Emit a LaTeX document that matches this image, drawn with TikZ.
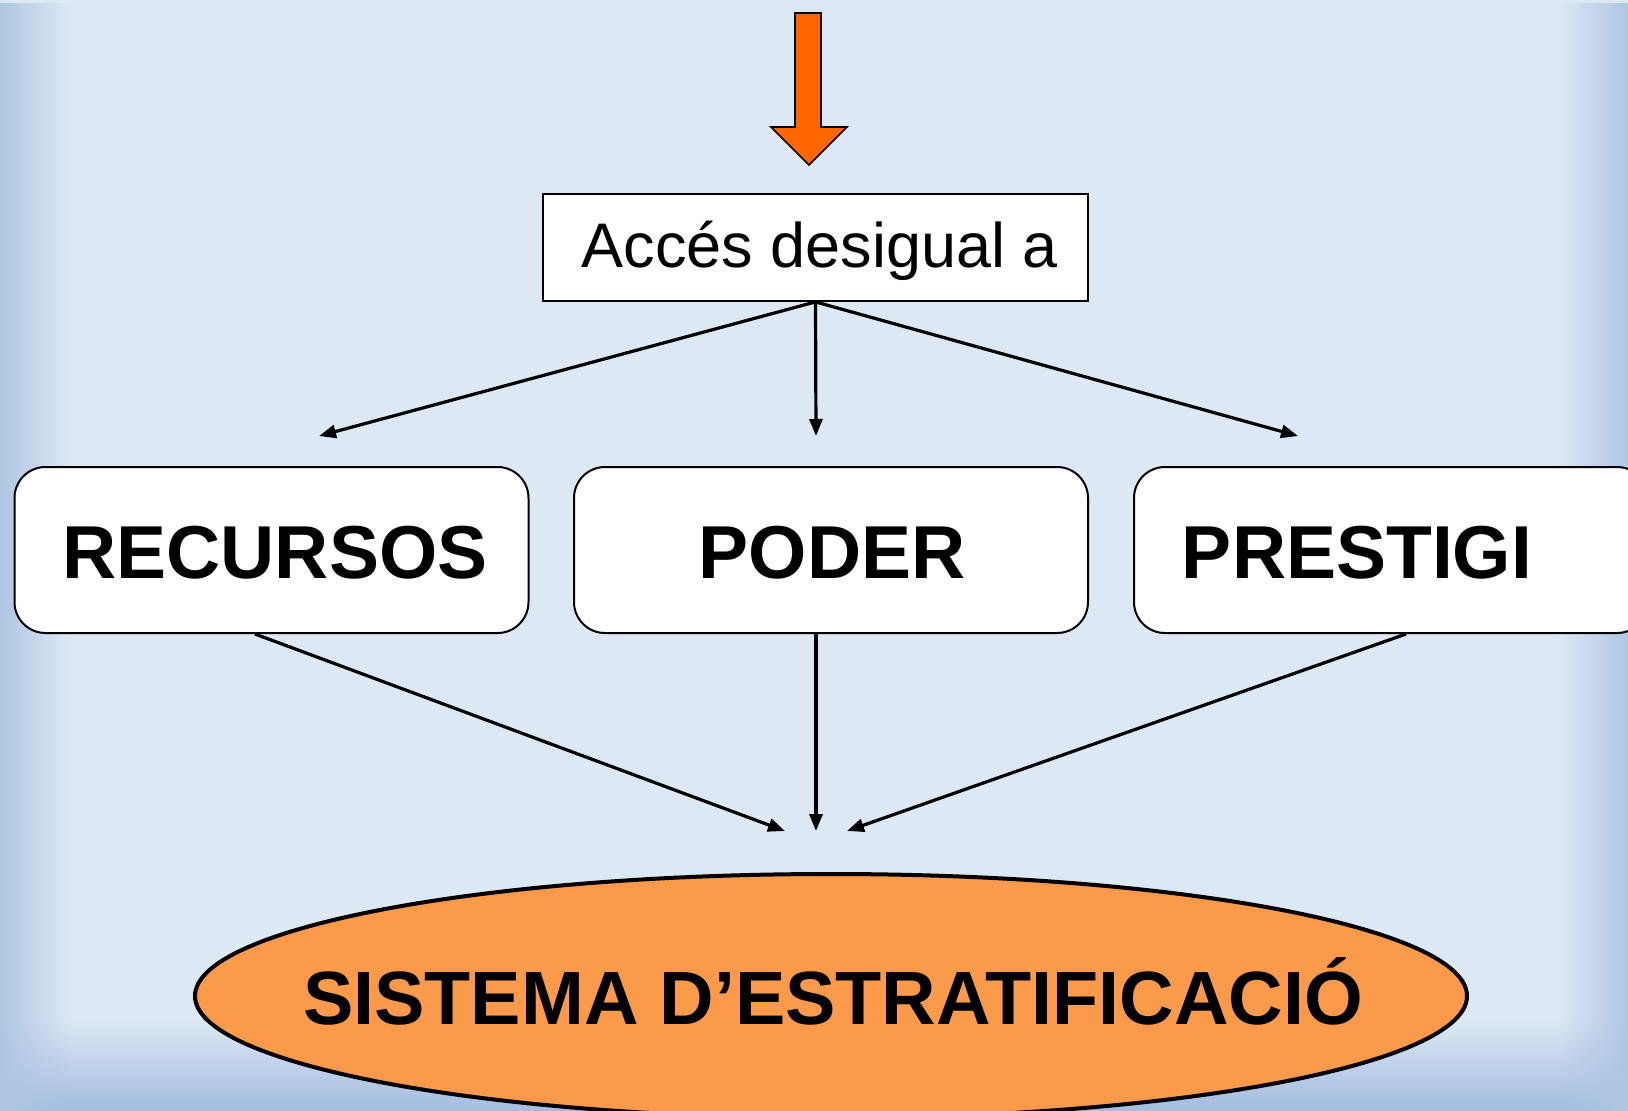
\documentclass[tikz,border=0pt]{standalone}
\usepackage{fontspec}
\setmainfont{Liberation Sans}
\usetikzlibrary{arrows.meta,shapes.geometric,fadings}
\definecolor{bgblue}{HTML}{DDE8F5}
\definecolor{edgeblue}{HTML}{AFC6E3}
\definecolor{botblue}{HTML}{A3BCE0}
\definecolor{arroworange}{HTML}{FF6600}
\definecolor{ellorange}{HTML}{FB9A4A}
\tikzset{
  conn/.style={line width=3.2pt, -{Triangle[length=17pt,width=13pt]}},
  catbox/.style={draw=black, line width=2pt, fill=white, rounded corners=31pt,
    minimum width=514pt, minimum height=166pt, inner sep=0pt},
  cattext/.style={font=\fontsize{75}{80}\selectfont\bfseries, inner sep=0pt},
}
\begin{document}
\begin{tikzpicture}[x=1pt,y=-1pt]
\useasboundingbox (0,0) rectangle (1628,1111);
% background
\fill[bgblue] (0,0) rectangle (1628,1111);
\fill[botblue, path fading=north] (0,1020) rectangle (1628,1111);
\fill[edgeblue, path fading=east] (0,0) rectangle (70,1111);
\fill[edgeblue, path fading=west] (1558,0) rectangle (1628,1111);
% top arrow
\filldraw[fill=arroworange, draw=black, line width=1.6pt]
  (795,13) -- (821,13) -- (821,127) -- (847,127) -- (809,165) -- (771,127) -- (795,127) -- cycle;
% access box
\node[draw=black, line width=1.8pt, fill=white, minimum width=545pt, minimum height=107pt,
  inner sep=0pt, font=\fontsize{63}{68}\selectfont] (acc) at (815.5,247.5) {};
\node[inner sep=0pt, font=\fontsize{63}{68}\selectfont] (acct) at (820,251) {Accés desigual a};
% category boxes
\node[catbox] (rec) at (271.5,550) {};
\node[catbox] (pod) at (831,550) {};
\node[catbox] (pre) at (1391,550) {};
\node[cattext] (rect) at (275,553) {RECURSOS};
\node[cattext] (podt) at (832,553) {PODER};
\node[cattext] (pret) at (1357,553) {PRESTIGI};
% ellipse
\node[ellipse, draw=black, line width=4pt, fill=ellorange, minimum width=1272pt,
  minimum height=244pt, inner sep=0pt] (sis) at (831,996) {};
\node[font=\fontsize{75.5}{80}\selectfont\bfseries, inner sep=0pt] (sist) at (833,991) {SISTEMA D’ESTRATIFICACIÓ};
% connectors from access box
\coordinate (a1) at (319,436);
\coordinate (a2) at (816,436);
\coordinate (a3) at (1298,436);
\draw[conn] (acc.south) -- (a1);
\draw[conn] (acc.south) -- (a2);
\draw[conn] (acc.south) -- (a3);
% connectors to ellipse
\coordinate (b1) at (785,831);
\coordinate (b2) at (816,831);
\coordinate (b3) at (847,831);
\draw[conn] (rec.south -| 255,0) -- (b1);
\draw[conn] (pod.south -| 816,0) -- (b2);
\draw[conn] (pre.south -| 1406,0) -- (b3);
\end{tikzpicture}
\end{document}
